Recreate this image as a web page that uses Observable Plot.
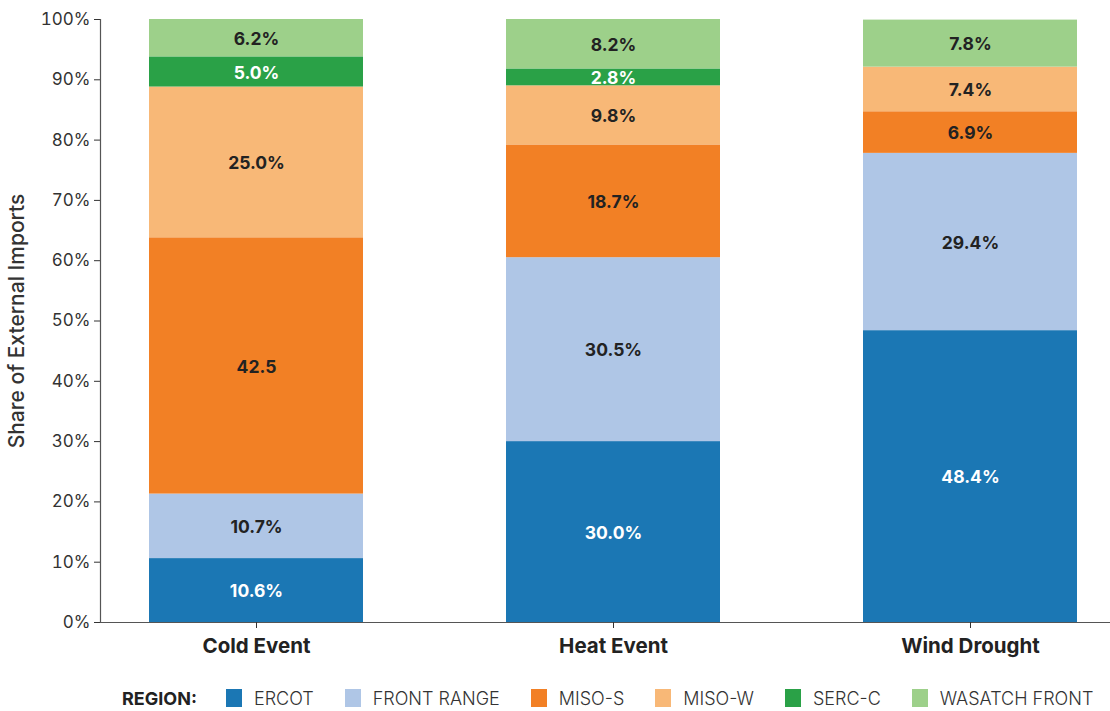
<!DOCTYPE html>
<html>
<head>
<meta charset="utf-8">
<script src="https://cdn.jsdelivr.net/npm/d3@7"></script>
<script src="https://cdn.jsdelivr.net/npm/@observablehq/plot@0.6"></script>
<style>
  html, body { margin: 0; padding: 0; background: #fff; }
  body { width: 1110px; height: 711px; overflow: hidden; font-family: Inter, "Noto Sans", sans-serif; }
  #chart svg { display: block; }
  #legend { position: relative; margin-top: 13px; height: 52px; display: flex; align-items: center; padding-left: 122px; font-size: 18px; color: #333; white-space: nowrap; width: 1200px; }
  #legend .title { font-weight: 700; color: #222; margin-right: 29px; flex-shrink: 0; }
  #legend .item { display: flex; align-items: center; margin-right: 31px; font-weight: 300; flex-shrink: 0; white-space: nowrap; }
  #legend .sw { width: 16px; height: 18px; margin-right: 12px; flex-shrink: 0; }
</style>
</head>
<body>
<div id="chart"></div>
<div id="legend"></div>
<script>
const events = ["Cold Event", "Heat Event", "Wind Drought"];
const regions = ["ERCOT", "FRONT RANGE", "MISO-S", "MISO-W", "SERC-C", "WASATCH FRONT"];
const colors = ["#1b77b4", "#afc6e6", "#f28025", "#f8b877", "#2aa147", "#9dd08a"];
const textColors = ["#ffffff", "#222222", "#222222", "#222222", "#ffffff", "#222222"];
// values per region, in event order
const ercot        = [10.6, 30.0, 48.4];
const frontRange   = [10.7, 30.5, 29.4];
const misoS        = [42.5, 18.7, 6.9];
const misoW        = [25.0, 9.8, 7.4];
const sercC        = [5.0, 2.8, 0];
const wasatchFront = [6.2, 8.2, 7.8];
// labels as printed on the bars
const ercotLabels   = ["10.6%", "30.0%", "48.4%"];
const frontLabels   = ["10.7%", "30.5%", "29.4%"];
const misoSLabels   = ["42.5", "18.7%", "6.9%"];
const misoWLabels   = ["25.0%", "9.8%", "7.4%"];
const sercLabels    = ["5.0%", "2.8%", ""];
const wasatchLabels = ["6.2%", "8.2%", "7.8%"];
const yTicks = [0, 10, 20, 30, 40, 50, 60, 70, 80, 90, 100];

const series = [ercot, frontRange, misoS, misoW, sercC, wasatchFront];
const labelSets = [ercotLabels, frontLabels, misoSLabels, misoWLabels, sercLabels, wasatchLabels];
const data = [];
regions.forEach((r, i) => {
  events.forEach((e, j) => {
    data.push({event: e, region: r, value: series[i][j], label: labelSets[i][j], tc: textColors[i]});
  });
});

const chart = Plot.plot({
  width: 1110,
  height: 659,
  marginTop: 19,
  marginBottom: 37,
  marginLeft: 100,
  marginRight: 0,
  style: {fontFamily: "Inter, 'Noto Sans', sans-serif", color: "#333", background: "#fff"},
  x: {domain: events, range: [100, 1126], paddingInner: 0.4, paddingOuter: 0.134, label: null},
  y: {domain: [0, 100], label: null},
  color: {domain: regions, range: colors},
  marks: [
    Plot.barY(data, {x: "event", y: "value", fill: "region", order: regions}),
    Plot.text(data, Plot.stackY({x: "event", y: "value", z: "region", order: regions, text: "label",
      fill: "tc", fontSize: 17.5, fontWeight: 700, dy: 1})),
    Plot.ruleY([0], {stroke: "#555", strokeWidth: 1.2}),
    Plot.axisY({ticks: yTicks, tickFormat: d => d + "%", tickSize: 6, tickPadding: 4, fontSize: 17,
      label: "Share of External Imports", labelAnchor: "center", labelArrow: "none", labelOffset: 91}),
    Plot.axisX({tickSize: 6, tickPadding: 10, fontSize: 20.5, fontWeight: 700, label: null}),
    Plot.frame({anchor: "left", stroke: "#555", strokeWidth: 1.2})
  ]
});
chart.querySelectorAll("g[aria-label='y-axis label']").forEach(g => {
  g.setAttribute("font-size", "21"); g.setAttribute("font-weight", "500"); g.setAttribute("fill", "#333");
  g.querySelectorAll("text").forEach(t => { t.setAttribute("font-size", "21"); t.style.fontSize = "21px"; });
});
chart.querySelectorAll("g[aria-label='x-axis tick label'] text").forEach(t => t.setAttribute("fill", "#222"));
document.getElementById("chart").appendChild(chart);

const legend = document.getElementById("legend");
legend.innerHTML = `<span class="title">REGION:</span>` +
  regions.map((r, i) => `<span class="item"><span class="sw" style="background:${colors[i]}"></span>${r}</span>`).join("");
</script>
</body>
</html>
